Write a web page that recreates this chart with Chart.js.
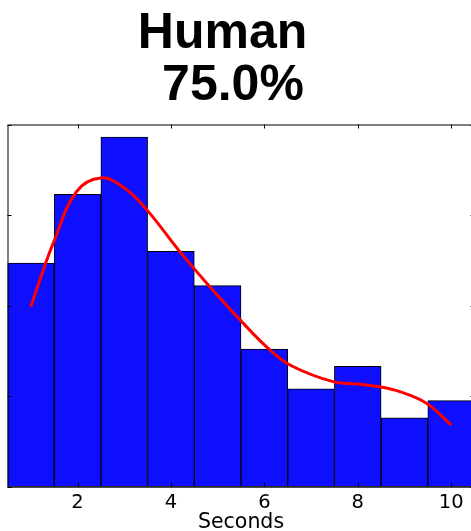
<!DOCTYPE html>
<html>
<head>
<meta charset="utf-8">
<script src="https://cdn.jsdelivr.net/npm/chart.js@4/dist/chart.umd.min.js"></script>
<style>
  html, body { margin: 0; padding: 0; background: #fff; }
  #wrap { width: 471px; height: 531px; overflow: hidden; position: relative; }
  canvas { display: block; }
</style>
</head>
<body>
<div id="wrap"><canvas id="chart" width="490" height="540"></canvas></div>
<script>
// histogram bins (centers) and density per bin
const binCenters = [1, 2, 3, 4, 5, 6, 7, 8, 9, 10];
const density = [0.1235, 0.1615, 0.193, 0.13, 0.111, 0.076, 0.054, 0.0665, 0.038, 0.0475];

// smoothed density curve
const kdeX = [1.0, 1.19, 1.48, 1.98, 2.5, 3.0, 3.48, 4.19, 4.8, 5.48, 6.12, 6.6, 7.47, 8.0, 8.47, 8.9, 9.47, 10.0];
const kdeY = [0.0993, 0.114, 0.1345, 0.163, 0.1705, 0.165, 0.153, 0.1298, 0.1114, 0.0921, 0.0755, 0.0665, 0.058, 0.0567, 0.0552, 0.0525, 0.0461, 0.0341];

const xTicks = [2, 4, 6, 8, 10];
const yTicks = [0, 0.05, 0.1, 0.15, 0.2];
const titleLines = ['Human', '75.0%'];

const tickFont = 'DejaVu Sans, sans-serif';

// title text + frame with inward ticks, like the old matplotlib look
const framePlugin = {
  id: 'frame',
  afterDatasetsDraw(chart) {
    const {ctx, chartArea: a, scales: {x, y}} = chart;
    ctx.save();
    ctx.strokeStyle = '#000';
    ctx.lineWidth = 1;
    ctx.strokeRect(a.left + 0.5, a.top + 0.5, a.right - a.left - 1, a.bottom - a.top);
    ctx.beginPath();
    xTicks.forEach(v => {
      const px = Math.round(x.getPixelForValue(v)) + 0.5;
      ctx.moveTo(px, a.bottom); ctx.lineTo(px, a.bottom - 4);
      ctx.moveTo(px, a.top); ctx.lineTo(px, a.top + 4);
    });
    yTicks.forEach(v => {
      const py = Math.round(y.getPixelForValue(v)) + 0.5;
      ctx.moveTo(a.left, py); ctx.lineTo(a.left + 4, py);
      ctx.moveTo(a.right, py); ctx.lineTo(a.right - 4, py);
    });
    ctx.stroke();
    ctx.restore();
  },
  afterDraw(chart) {
    const ctx = chart.ctx;
    ctx.save();
    ctx.fillStyle = '#000';
    ctx.font = 'bold 50px "Liberation Sans", Arial, sans-serif';
    ctx.textAlign = 'center';
    ctx.textBaseline = 'alphabetic';
    ctx.fillText(titleLines[0], 222.5, 48);
    ctx.fillText(titleLines[1], 233, 100);
    ctx.restore();
  }
};

const config = {
  data: {
    datasets: [
      {
        type: 'line',
        data: kdeX.map((v, i) => ({x: v, y: kdeY[i]})),
        borderColor: '#ff0000',
        borderWidth: 3,
        pointRadius: 0,
        tension: 0.4,
        fill: false,
        order: 0
      },
      {
        type: 'bar',
        data: binCenters.map((v, i) => ({x: v, y: density[i]})),
        backgroundColor: '#0f0fff',
        borderColor: '#000000',
        borderWidth: 1,
        borderSkipped: false,
        barPercentage: 1,
        categoryPercentage: 1,
        order: 1
      }
    ]
  },
  options: {
    responsive: false,
    animation: false,
    layout: {
      padding: {left: 7.5, right: 15.5, top: 124.5, bottom: 3.3}
    },
    plugins: {
      legend: {display: false},
      title: {display: false},
      tooltip: {enabled: false}
    },
    scales: {
      x: {
        type: 'linear',
        offset: false,
        min: 0.5,
        max: 10.5,
        afterBuildTicks: (scale) => {
          scale.ticks = xTicks.map(v => ({value: v}));
        },
        afterFit: (scale) => {
          scale.height = 50;
        },
        grid: {display: false, offset: false},
        border: {display: false},
        ticks: {
          color: '#000',
          padding: -3,
          maxRotation: 0,
          font: {family: tickFont, size: 19.5}
        },
        title: {
          display: true,
          text: 'Seconds',
          color: '#000',
          padding: {top: 0, bottom: 1.5},
          font: {family: tickFont, size: 20.5}
        }
      },
      y: {
        display: false,
        min: 0,
        max: 0.2
      }
    }
  },
  plugins: [framePlugin]
};

new Chart(document.getElementById('chart'), config);
</script>
</body>
</html>
